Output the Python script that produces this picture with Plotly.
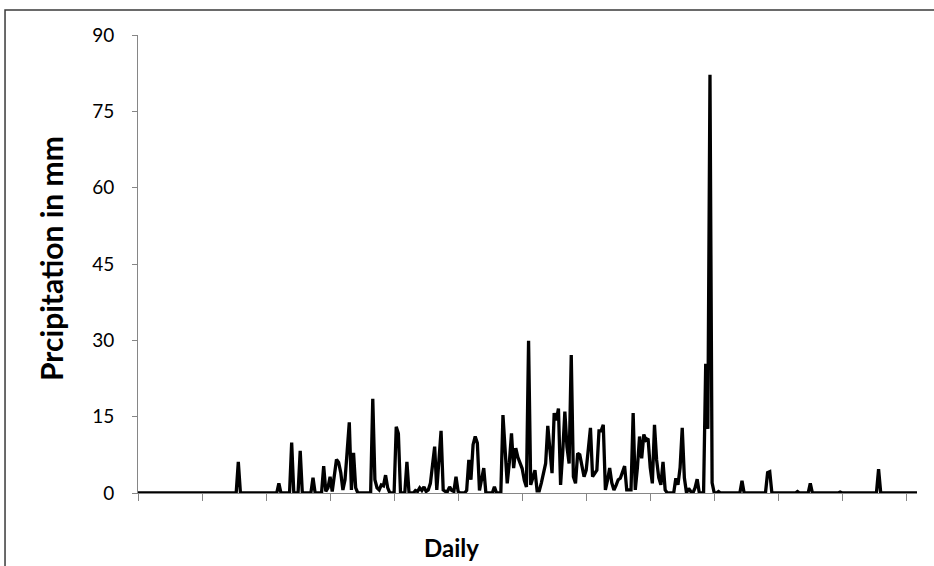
import plotly.graph_objects as go

# Days with recorded precipitation (day of year) and the amount in mm; all other days are 0
rain_days = [48, 67, 73, 77, 83, 88, 89, 90, 91, 92, 93, 94, 95, 96, 97, 98, 99, 100, 101, 102, 103,
             111, 112, 113, 114, 115, 116, 117, 118, 122, 123, 127, 131, 132, 133, 134, 135, 136, 137,
             138, 139, 140, 141, 142, 143, 144, 145, 146, 147, 148, 149, 150, 151, 155, 156, 157, 158,
             159, 160, 161, 162, 163, 168, 172, 173, 174, 175, 176, 177, 178, 179, 180, 181, 182, 183,
             184, 185, 186, 187, 188, 189, 190, 191, 192, 193, 194, 195, 196, 197, 198, 199, 200, 201,
             202, 203, 204, 205, 206, 207, 208, 209, 210, 211, 212, 213, 214, 215, 216, 217, 218, 219,
             220, 221, 222, 223, 224, 225, 226, 227, 228, 229, 230, 231, 232, 233, 234, 235, 236, 237,
             238, 239, 240, 241, 242, 243, 244, 245, 246, 247, 248, 253, 254, 255, 256, 257, 259, 260,
             262, 263, 267, 268, 269, 270, 273, 284, 296, 297, 310, 316, 330, 348]
rain_mm = [6.1, 1.9, 9.9, 8.3, 3.0, 5.3, 0.3, 1.0, 3.2, 0.3, 3.5, 6.6, 6.0, 4.0, 0.6, 2.6, 8.2, 13.9, 0.6, 7.9, 1.0,
           18.5, 2.6, 1.0, 0.6, 1.6, 1.4, 3.5, 1.0, 13.0, 11.7, 6.1, 0.5, 0.3, 1.0, 0.5, 1.2, 0.3, 0.6,
           1.9, 5.5, 9.1, 0.6, 6.4, 12.2, 0.6, 0.3, 0.3, 1.2, 0.5, 0.3, 3.2, 0.3, 0.5, 6.5, 2.6, 9.5,
           11.1, 9.8, 0.5, 2.5, 4.9, 1.2, 15.3, 8.0, 1.9, 6.0, 11.7, 4.9, 8.8, 7.0, 6.0, 4.8, 2.5, 1.2,
           29.9, 1.6, 3.0, 4.5, 0.4, 0.4, 2.0, 4.0, 5.8, 13.2, 8.0, 3.9, 15.7, 14.3, 16.6, 1.6, 8.0, 16.0,
           9.0, 5.8, 27.1, 3.2, 1.9, 7.8, 7.5, 5.2, 3.2, 4.5, 8.5, 12.8, 3.2, 3.8, 4.5, 12.2, 12.2, 13.4,
           0.6, 2.5, 4.9, 2.0, 0.6, 1.5, 2.6, 2.9, 4.0, 5.3, 0.6, 0.6, 0.6, 15.7, 0.6, 5.0, 11.1, 6.8,
           11.5, 10.4, 10.7, 5.0, 1.9, 13.4, 6.5, 3.0, 1.6, 6.1, 0.6, 2.9, 1.6, 5.0, 12.8, 3.0, 0.9, 0.3,
           1.0, 2.7, 25.4, 12.6, 82.2, 2.0, 0.3, 2.4, 4.0, 4.2, 0.3, 1.9, 0.2, 4.7]
n_days = 366
y_ticks = [0, 15, 30, 45, 60, 75, 90]
x_ticks = list(range(1, n_days + 1, 30))

days = list(range(1, n_days + 1))
lookup = dict(zip(rain_days, rain_mm))
precip = [lookup.get(d, 0.0) for d in days]

fig = go.Figure()
fig.add_trace(go.Scatter(x=days, y=precip, mode="lines",
                         line=dict(color="black", width=3.3), cliponaxis=False,
                         hoverinfo="x+y"))

axis_gray = "#868686"
fig.update_layout(
    width=934, height=566,
    margin=dict(l=138, r=17, t=35, b=73),
    paper_bgcolor="white", plot_bgcolor="white",
    showlegend=False,
    font=dict(family="Lato, Carlito, Calibri, sans-serif", color="black"),
    xaxis=dict(range=[1, n_days], tickvals=x_ticks, showticklabels=False,
               ticks="outside", ticklen=7, tickcolor=axis_gray, tickwidth=1,
               showline=True, linecolor=axis_gray, linewidth=1,
               showgrid=False, zeroline=False, layer="below traces"),
    yaxis=dict(range=[0, 90], tickvals=y_ticks,
               ticks="outside", ticklen=5, tickcolor=axis_gray, tickwidth=1,
               showline=True, linecolor=axis_gray, linewidth=1,
               showgrid=False, zeroline=False, ticklabelstandoff=14,
               tickfont=dict(size=19, color="black"), layer="below traces"),
    annotations=[
        dict(text="<b>Prcipitation in mm</b>", xref="paper", yref="paper",
             x=-0.1117, y=0.513, xanchor="center", yanchor="middle",
             textangle=-90, showarrow=False, font=dict(size=30)),
        dict(text="<b>Daily</b>", xref="paper", yref="paper",
             x=0.4018, y=-0.120, xanchor="center", yanchor="middle",
             showarrow=False, font=dict(size=24)),
    ],
    shapes=[
        dict(type="rect", xref="paper", yref="paper",
             x0=-0.1707, y0=-0.3, x1=1.1, y1=1.0546,
             line=dict(color="#3a3a3a", width=1.5), fillcolor="rgba(0,0,0,0)",
             layer="below"),
    ],
)

fig.write_html("out.html")
